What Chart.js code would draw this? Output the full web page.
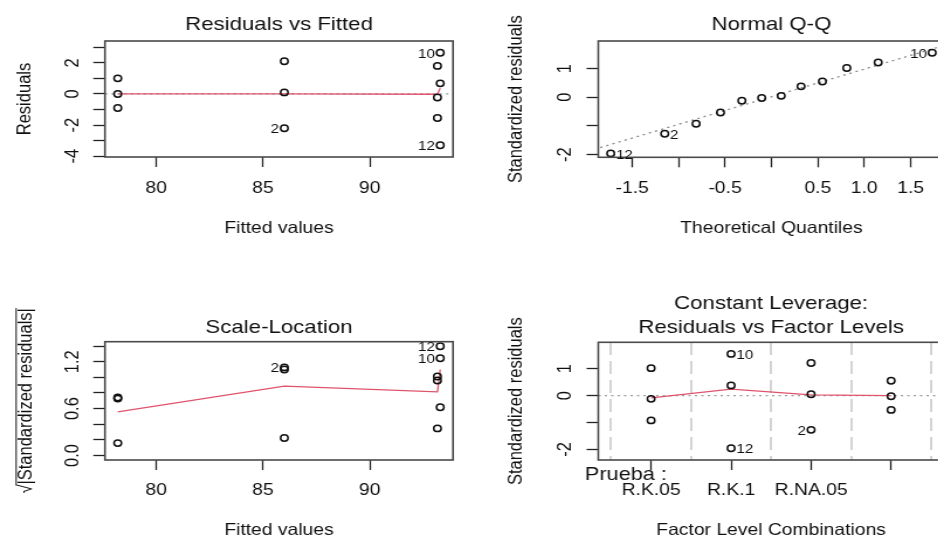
<!DOCTYPE html>
<html>
<head>
<meta charset="utf-8">
<script src="https://cdn.jsdelivr.net/npm/chart.js@4.4.1/dist/chart.umd.min.js"></script>
<style>
  html, body { margin: 0; padding: 0; background: #fff; width: 938px; height: 540px; overflow: hidden; }
  .panel { position: absolute; transform: scaleX(1.17); transform-origin: 0 0; }
</style>
</head>
<body>
<div class="panel" style="left:0;top:0"><canvas id="p1" width="401" height="270"></canvas></div>
<div class="panel" style="left:469px;top:0"><canvas id="p2" width="412" height="270"></canvas></div>
<div class="panel" style="left:0;top:270px"><canvas id="p3" width="401" height="270"></canvas></div>
<div class="panel" style="left:469px;top:270px"><canvas id="p4" width="412" height="270"></canvas></div>
<script>
// model: 4 factor levels, 3 observations each
var levelNames = ['R.K.05', 'R.K.1', 'R.NA.05', ''];
var levelFitted = [93.17, 93.3, 86.0, 78.2];
var obsIds = [[5, 1, 9], [10, 6, 12], [3, 7, 2], [4, 8, 11]];
var residuals = [[1.8, -0.23, -1.55], [2.65, 0.68, -3.3], [2.1, 0.1, -2.2], [1.0, 0.0, -0.9]];
var stdResiduals = [[1.02, -0.12, -0.92], [1.55, 0.38, -1.955], [1.21, 0.05, -1.27], [0.55, -0.025, -0.53]];
var labelledIds = [10, 12, 2];

// normal scores for n = 12
var theoQuantiles = [-1.732, -1.150, -0.812, -0.549, -0.319, -0.105, 0.105, 0.319, 0.549, 0.812, 1.150, 1.732];

// red smoother curves
var smoothFitted = [78.2, 86.0, 93.17, 93.3];
var smoothResid = [0.0, 0.0, -0.02, 0.36];
var smoothScale = [0.557, 0.888, 0.815, 1.10];
var smoothLevels = [-0.08, 0.24, 0.03, 0.0];

// ticks
var fitTicks = [80, 85, 90];
var residTicks = [-4, -3, -2, -1, 0, 1, 2, 3];
var residTickLabels = [-4, -2, 0, 2];
var qqTicks = [-1.5, -1, -0.5, 0, 0.5, 1, 1.5];
var qqTickLabels = [-1.5, -0.5, 0.5, 1, 1.5];
var stdTicks = [-2, -1, 0, 1];
var stdTickLabels = [-2, 0, 1];
var sqrtTicks = [0, 0.2, 0.4, 0.6, 0.8, 1.0, 1.2, 1.4];
var sqrtTickLabels = [0, 0.6, 1.2];
var levelTicks = [1, 2, 3, 4];
var levelBreaks = [0.5, 1.5, 2.5, 3.5, 4.5];

var FONT = "'Liberation Sans', Arial, Helvetica, sans-serif";
var INK = '#101010';
var RED = '#DF536B';

Chart.defaults.font.family = FONT;
Chart.defaults.font.size = 16.5;
Chart.defaults.color = INK;
Chart.defaults.animation = false;
Chart.defaults.plugins.legend.display = false;
Chart.defaults.plugins.tooltip.enabled = false;

var obs = [];
levelFitted.forEach(function (f, g) {
    residuals[g].forEach(function (r, k) {
        obs.push({ id: obsIds[g][k], level: g + 1, fitted: f, resid: r, std: stdResiduals[g][k] });
    });
});
var qqOrder = obs.slice().sort(function (a, b) { return a.std - b.std; });

// qqline through the quartiles
function quantile7(v, p) {
    var h = (v.length - 1) * p, lo = Math.floor(h);
    return v[lo] + (h - lo) * (v[lo + 1] - v[lo]);
}
var qsorted = qqOrder.map(function (o) { return o.std; });
var q1 = quantile7(qsorted, 0.25), q3 = quantile7(qsorted, 0.75);
var qqSlope = (q3 - q1) / (2 * 0.6745);
var qqIcpt = q1 + qqSlope * 0.6745;

var tickGrid = { drawOnChartArea: false, drawTicks: true, tickLength: 10, tickColor: '#222', tickWidth: 1.3 };

function fmt0(v) { return String(v); }
function fmt1(v) { return v.toFixed(1); }

function axisX(min, max, ticks, labelFn, tickPad, title, titlePad, h) {
    return {
        type: 'linear', position: 'bottom', min: min, max: max, bounds: 'data',
        afterBuildTicks: function (s) { s.ticks = ticks.map(function (v) { return { value: v }; }); },
        afterFit: function (s) { s.height = h; },
        border: { display: false },
        grid: tickGrid,
        ticks: { autoSkip: false, maxRotation: 0, minRotation: 0, padding: tickPad, color: INK, font: { size: 16.5 }, callback: labelFn },
        title: { display: true, text: title, color: INK, font: { size: 16.5 }, padding: { top: 0, bottom: titlePad } }
    };
}

function axisY(min, max, ticks, title, titlePad, w) {
    return {
        type: 'linear', position: 'left', min: min, max: max, bounds: 'data',
        afterBuildTicks: function (s) { s.ticks = ticks.map(function (v) { return { value: v }; }); },
        afterFit: function (s) { s.width = w; },
        border: { display: false },
        grid: tickGrid,
        ticks: { display: false },
        title: { display: !!title, text: title, color: INK, font: { size: 16.5 }, padding: { top: titlePad, bottom: 0 } }
    };
}

function pick(list, f) {
    return function (v) { return list.indexOf(v) >= 0 ? f(v) : ''; };
}

function points(data, ids) {
    return {
        type: 'scatter', data: data, ids: ids, xAxisID: 'x', order: 0,
        pointStyle: 'circle', pointRadius: 3.2, pointBorderWidth: 1.5,
        pointBorderColor: INK, pointBackgroundColor: 'rgba(0,0,0,0)'
    };
}

function curve(data, color, width, dash) {
    return {
        type: 'line', data: data, xAxisID: 'x', order: 1,
        borderColor: color, borderWidth: width, borderDash: dash || [],
        pointRadius: 0, tension: 0, fill: false
    };
}

// extra drawing per panel: titles, rotated y labels, ids, frame
var panels = {
    p1: { title: [['Residuals vs Fitted', 25]], yLabels: residTickLabels, yFmt: fmt0, yOff: 27.4, zeroLine: true },
    p2: { title: [['Normal Q-Q', 25]], yLabels: stdTickLabels, yFmt: fmt0, yOff: 28.5 },
    p3: { title: [['Scale-Location', 58]], yLabels: sqrtTickLabels, yFmt: fmt1, yOff: 27.4, sqrtTitle: 22.8 },
    p4: { title: [['Constant Leverage:', 33.3], ['Residuals vs Factor Levels', 57.7]], yLabels: stdTickLabels, yFmt: fmt0, yOff: 28.5,
          zeroLine: true, extra: [{ text: 'Prueba :', x: 99.1, y: 204.5, size: 18.5 }] }
};

var rplot = {
    id: 'rplot',
    beforeDatasetsDraw: function (chart) {
        var p = panels[chart.canvas.id], ctx = chart.ctx, a = chart.chartArea;
        if (!p.zeroLine) return;
        var y = chart.scales.y.getPixelForValue(0);
        ctx.save();
        ctx.strokeStyle = '#9c9c9c';
        ctx.lineWidth = 1.2;
        ctx.setLineDash([2, 3.5]);
        ctx.beginPath();
        ctx.moveTo(a.left, y);
        ctx.lineTo(a.right, y);
        ctx.stroke();
        ctx.restore();
    },
    afterDatasetsDraw: function (chart) {
        var p = panels[chart.canvas.id], ctx = chart.ctx, a = chart.chartArea;
        var ys = chart.scales.y;
        ctx.save();
        // frame
        ctx.strokeStyle = '#4a4a4a';
        ctx.lineWidth = 1.6;
        ctx.strokeRect(a.left, a.top, a.right - a.left, a.bottom - a.top);

        ctx.fillStyle = INK;
        ctx.textBaseline = 'middle';

        // y tick labels, rotated like R's default las = 0
        ctx.font = '16.5px ' + FONT;
        ctx.textAlign = 'center';
        p.yLabels.forEach(function (v) {
            ctx.save();
            ctx.translate(a.left - p.yOff, ys.getPixelForValue(v));
            ctx.rotate(-Math.PI / 2);
            ctx.fillText(p.yFmt(v), 0, 0);
            ctx.restore();
        });

        // ids of the three largest residuals
        ctx.font = '13px ' + FONT;
        var mid = (a.left + a.right) / 2;
        chart.data.datasets.forEach(function (ds, i) {
            if (!ds.ids) return;
            chart.getDatasetMeta(i).data.forEach(function (el, j) {
                if (labelledIds.indexOf(ds.ids[j]) < 0) return;
                var left = el.x > mid;
                ctx.textAlign = left ? 'right' : 'left';
                ctx.fillText(String(ds.ids[j]), el.x + (left ? -4.5 : 4.5), el.y + 1.5);
            });
        });

        // titles
        ctx.font = '19px ' + FONT;
        ctx.textAlign = 'center';
        p.title.forEach(function (t) { ctx.fillText(t[0], mid, t[1]); });

        (p.extra || []).forEach(function (t) {
            ctx.font = t.size + 'px ' + FONT;
            ctx.textAlign = 'left';
            ctx.fillText(t.text, t.x, t.y);
        });

        if (p.sqrtTitle) {
            ctx.save();
            ctx.translate(p.sqrtTitle, (a.top + a.bottom) / 2);
            ctx.rotate(-Math.PI / 2);
            ctx.font = '16.5px ' + FONT;
            ctx.textAlign = 'left';
            var root = '\u221A', body = '|Standardized residuals|';
            var wr = ctx.measureText(root).width, wb = ctx.measureText(body).width;
            var x0 = -(wr + wb) / 2;
            ctx.fillText(root, x0, 0);
            ctx.fillText(body, x0 + wr, 0);
            ctx.strokeStyle = INK;
            ctx.lineWidth = 1;
            ctx.beginPath();
            ctx.moveTo(x0 + wr - 1, -9);
            ctx.lineTo(x0 + wr + wb, -9);
            ctx.stroke();
            ctx.restore();
        }
        ctx.restore();
    }
};

function makeChart(id, canvasW, area, scales, datasets) {
    return new Chart(document.getElementById(id).getContext('2d'), {
        type: 'scatter',
        data: { datasets: datasets },
        options: {
            responsive: false,
            layout: { padding: { left: 0, top: area.top, right: canvasW - area.right, bottom: 0 } },
            scales: scales,
            plugins: { legend: { display: false }, tooltip: { enabled: false } }
        },
        plugins: [rplot]
    });
}

// Residuals vs Fitted
makeChart('p1', 401, { top: 41, right: 387.2 }, {
    x: axisX(77.6, 93.9, fitTicks, pick(fitTicks, fmt0), 11.1, 'Fitted values', 32.1, 113),
    y: axisY(-4.05, 3.4, residTicks, 'Residuals', 11.5, 89.7)
}, [
    points(obs.map(function (o) { return { x: o.fitted, y: o.resid }; }), obs.map(function (o) { return o.id; })),
    curve(smoothFitted.map(function (f, i) { return { x: f, y: smoothResid[i] }; }), RED, 1.3)
]);

// Normal Q-Q
makeChart('p2', 412, { top: 41, right: 407.8 }, {
    x: axisX(-1.866, 1.866, qqTicks, pick(qqTickLabels, fmt1), 10.8, 'Theoretical Quantiles', 32.1, 112.7),
    y: axisY(-2.09, 1.96, stdTicks, 'Standardized residuals', 30.9, 110.5)
}, [
    points(qqOrder.map(function (o, i) { return { x: theoQuantiles[i], y: o.std }; }), qqOrder.map(function (o) { return o.id; })),
    curve([-2.5, 2.5].map(function (q) { return { x: q, y: qqIcpt + qqSlope * q }; }), '#8a8a8a', 1.3, [2, 3.5])
]);

// Scale-Location
makeChart('p3', 401, { top: 71.7, right: 387.2 }, {
    x: axisX(77.6, 93.9, fitTicks, pick(fitTicks, fmt0), 10.1, 'Fitted values', 0, 80),
    y: axisY(-0.058, 1.456, sqrtTicks, '', 0, 89.7)
}, [
    points(obs.map(function (o) { return { x: o.fitted, y: Math.sqrt(Math.abs(o.std)) }; }), obs.map(function (o) { return o.id; })),
    curve(smoothFitted.map(function (f, i) { return { x: f, y: smoothScale[i] }; }), RED, 1.3)
]);

// Constant Leverage: Residuals vs Factor Levels
var p4Scales = {
    x: axisX(0.34, 4.66, levelTicks, function (v) { return levelNames[v - 1] || ''; }, 10.1, 'Factor Level Combinations', 0, 80),
    xg: {
        type: 'linear', position: 'top', min: 0.34, max: 4.66, bounds: 'data',
        afterBuildTicks: function (s) { s.ticks = levelBreaks.map(function (v) { return { value: v }; }); },
        afterFit: function (s) { s.height = 0; },
        border: { display: false, dash: [13, 6] },
        ticks: { display: false },
        grid: { drawOnChartArea: true, drawTicks: false, color: '#d4d4d4', lineWidth: 2 }
    },
    y: axisY(-2.39, 1.98, stdTicks, 'Standardized residuals', 30.9, 110.5)
};
makeChart('p4', 412, { top: 72.3, right: 405.9 }, p4Scales, [
    points(obs.map(function (o) { return { x: o.level, y: o.std }; }), obs.map(function (o) { return o.id; })),
    curve(levelTicks.map(function (l, i) { return { x: l, y: smoothLevels[i] }; }), RED, 1.3)
]);
</script>
</body>
</html>
